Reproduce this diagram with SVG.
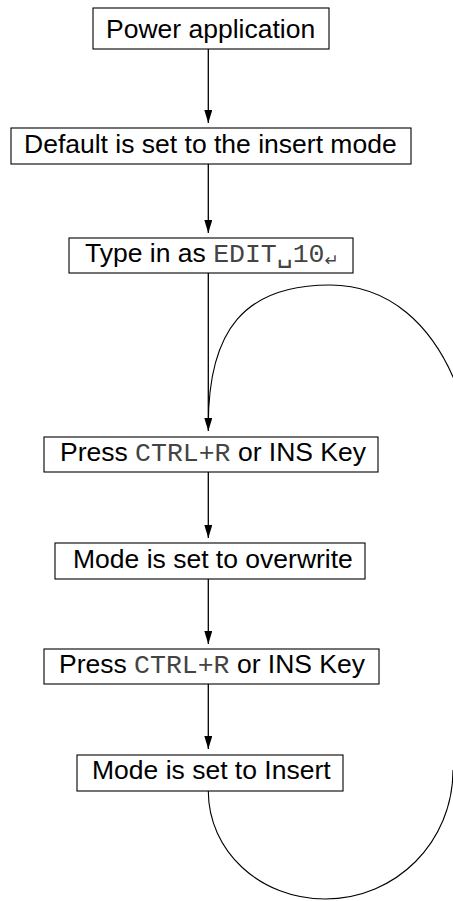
<svg xmlns="http://www.w3.org/2000/svg" width="453" height="901" viewBox="0 0 453 901">
<style>
.box{fill:#fff;stroke:#000;stroke-width:1.1}
.t{font-family:"Liberation Sans",Arial,sans-serif;font-size:26.5px;fill:#000}
.m{font-family:"Liberation Mono","DejaVu Sans Mono",monospace;font-size:26.5px;fill:#444}
.c{fill:none;stroke:#000;stroke-width:1.3}
.arc{fill:none;stroke:#000;stroke-width:1.1}
</style>
<defs>
<marker id="ah" markerUnits="userSpaceOnUse" markerWidth="8" markerHeight="13" viewBox="0 0 8 13" refX="4" refY="13" orient="0">
<path d="M0,0 L8,0 L4,13 z" fill="#000"/>
</marker>
</defs>
<rect width="453" height="901" fill="#fff"/>
<g id="connectors">
<path class="c" d="M208.3 49 V123" marker-end="url(#ah)"/>
<path class="c" d="M208.3 164 V233" marker-end="url(#ah)"/>
<path class="c" d="M208.3 273 V431" marker-end="url(#ah)"/>
<path class="c" d="M208.3 472 V538" marker-end="url(#ah)"/>
<path class="c" d="M208.3 579 V644" marker-end="url(#ah)"/>
<path class="c" d="M208.3 684 V749" marker-end="url(#ah)"/>
<path class="arc" d="M462 400 C435 320 385 285 330 285 C244.6 285 208.3 330 208.3 425"/>
<path class="arc" d="M208.3 791 C208.3 851 260 899 325 899 C396 899 453 842 453 770"/>
</g>
<g id="n1"><rect class="box" x="93" y="8" width="236" height="41"/><text class="t" x="106" y="38">Power application</text></g>
<g id="n2"><rect class="box" x="11" y="128" width="400" height="36"/><text class="t" x="24" y="153">Default is set to the insert mode</text></g>
<g id="n3"><rect class="box" x="69" y="238" width="284" height="35"/><text class="t" x="85" y="262">Type in as <tspan class="m">EDIT␣10</tspan><tspan style="font-family:'DejaVu Sans',sans-serif;font-size:17px;fill:#444" dy="4">↵</tspan></text></g>
<g id="n4"><rect class="box" x="44" y="437" width="334" height="35"/><text class="t" x="60" y="461">Press <tspan class="m">CTRL+R</tspan> or INS Key</text></g>
<g id="n5"><rect class="box" x="55" y="543" width="310" height="36"/><text class="t" x="73" y="568">Mode is set to overwrite</text></g>
<g id="n6"><rect class="box" x="44" y="649" width="335" height="35"/><text class="t" x="59" y="673">Press <tspan class="m">CTRL+R</tspan> or INS Key</text></g>
<g id="n7"><rect class="box" x="77" y="755" width="266" height="36"/><text class="t" x="92" y="779">Mode is set to Insert</text></g>
</svg>
